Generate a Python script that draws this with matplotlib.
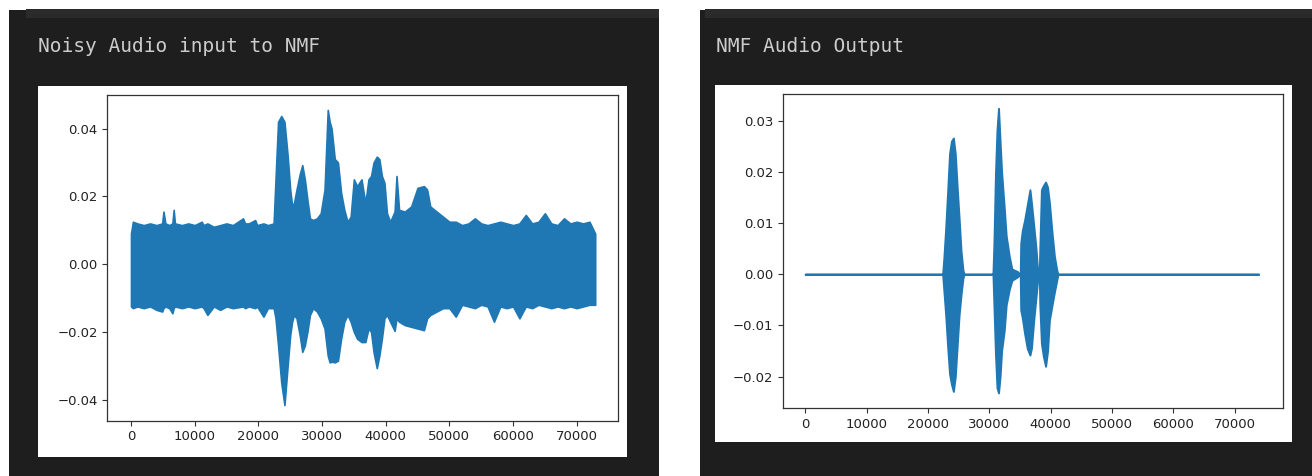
import numpy as np
import matplotlib.pyplot as plt
from matplotlib.patches import Rectangle

# noisy input waveform envelope (sample index, upper, lower)
noisy_t = [0, 300, 1000, 2000, 3000, 4000, 4900, 5100, 5400, 6000, 6500, 6700, 6900,
           8000, 9000, 10000, 11100, 11400, 12000, 13000, 14000, 15000, 16000, 17600,
           17900, 18500, 19500, 19800, 20800, 21500, 22400, 22700, 23100, 23600, 24100,
           24600, 25000, 25300, 25600, 26000, 26500, 26900, 27300, 27700, 28100, 28600,
           29200, 29800, 30400, 30900, 31200, 31500, 32000, 32500, 33000, 33500, 34000,
           34500, 35000, 35500, 36200, 36800, 37300, 37700, 38100, 38600, 39000, 39400,
           39800, 40200, 40700, 41400, 41700, 42100, 43000, 44000, 45000, 46000, 46500,
           47000, 48000, 49000, 50000, 51000, 52000, 53000, 54000, 55000, 56000, 57000,
           58000, 59000, 60000, 61000, 62000, 63000, 64000, 65000, 66000, 67000, 68000,
           69000, 70000, 71000, 72000, 72900]
noisy_hi = [0.009, 0.0125, 0.012, 0.0115, 0.012, 0.0115, 0.012, 0.0155, 0.012, 0.0115,
            0.012, 0.016, 0.012, 0.0115, 0.012, 0.0115, 0.0125, 0.0115, 0.012, 0.011,
            0.0115, 0.012, 0.0115, 0.0135, 0.012, 0.012, 0.013, 0.0115, 0.012, 0.0115,
            0.012, 0.025, 0.042, 0.0437, 0.042, 0.032, 0.022, 0.0174, 0.018, 0.022,
            0.0265, 0.0292, 0.025, 0.019, 0.0135, 0.013, 0.0135, 0.015, 0.022, 0.0455,
            0.042, 0.040, 0.031, 0.030, 0.021, 0.016, 0.0125, 0.014, 0.025, 0.023,
            0.025, 0.018, 0.025, 0.026, 0.030, 0.0317, 0.031, 0.026, 0.024, 0.015,
            0.0125, 0.0155, 0.026, 0.016, 0.0155, 0.017, 0.0225, 0.023, 0.022, 0.017,
            0.0155, 0.014, 0.0125, 0.0125, 0.0115, 0.012, 0.0135, 0.012, 0.0115, 0.012,
            0.0125, 0.012, 0.0115, 0.012, 0.0145, 0.012, 0.0125, 0.015, 0.012, 0.0115,
            0.0135, 0.012, 0.0125, 0.012, 0.0125, 0.009]
noisy_lo = [-0.0125, -0.013, -0.0125, -0.013, -0.0125, -0.0135, -0.014, -0.013, -0.0125,
            -0.013, -0.0145, -0.013, -0.0125, -0.013, -0.0125, -0.013, -0.0125, -0.013,
            -0.015, -0.0125, -0.0135, -0.0125, -0.013, -0.0125, -0.013, -0.0125, -0.013,
            -0.0125, -0.0155, -0.013, -0.013, -0.016, -0.024, -0.035, -0.0416, -0.030,
            -0.021, -0.017, -0.015, -0.016, -0.021, -0.0259, -0.024, -0.020, -0.015,
            -0.013, -0.014, -0.016, -0.019, -0.027, -0.029, -0.0288, -0.029, -0.0285,
            -0.022, -0.017, -0.015, -0.017, -0.020, -0.022, -0.023, -0.023, -0.019,
            -0.020, -0.026, -0.0307, -0.027, -0.022, -0.016, -0.015, -0.017, -0.0197,
            -0.016, -0.017, -0.018, -0.0185, -0.019, -0.0195, -0.016, -0.015, -0.014,
            -0.013, -0.013, -0.0155, -0.012, -0.0125, -0.013, -0.012, -0.0125, -0.017,
            -0.0125, -0.013, -0.0125, -0.016, -0.0125, -0.013, -0.012, -0.0125, -0.013,
            -0.0125, -0.013, -0.0125, -0.013, -0.0125, -0.012, -0.012]

# NMF output waveform envelope
clean_t = [0, 22400, 22590, 22900, 23210, 23530, 23840, 24150, 24460, 24770,
           25080, 25400, 25710, 25900, 30600, 30760, 31010, 31260, 31510, 31760,
           32010, 32440, 32760, 33260, 33690, 34620, 34900, 35050, 35130, 35380,
           35750, 36190, 36630, 36870, 37250, 37620, 37870, 38000, 38150, 38240,
           38500, 38810, 39180, 39500, 39800, 40240, 40620, 41000, 41200, 73900]
clean_hi = [0, 0, 0.003, 0.009, 0.016, 0.0236, 0.026, 0.0266, 0.0235, 0.017,
            0.011, 0.0045, 0.0008, 0, 0, 0.006, 0.0195, 0.0282, 0.0324, 0.026,
            0.020, 0.013, 0.0075, 0.0035, 0.001, 0.0005, 0, 0, 0.006, 0.0085,
            0.0105, 0.0135, 0.0165, 0.014, 0.0095, 0.005, 0.001, 0, 0, 0.005,
            0.0165, 0.0173, 0.018, 0.017, 0.014, 0.008, 0.0035, 0.0008, 0, 0]
clean_lo = [0, 0, -0.003, -0.008, -0.014, -0.0195, -0.0215, -0.0229, -0.020, -0.014,
            -0.008, -0.004, -0.0008, 0, 0, -0.006, -0.0155, -0.0222, -0.0232, -0.020,
            -0.015, -0.011, -0.006, -0.003, -0.0012, -0.0005, 0, 0, -0.007, -0.0085,
            -0.0115, -0.0145, -0.0158, -0.0145, -0.009, -0.0045, -0.0013, 0, 0, -0.006,
            -0.0135, -0.016, -0.018, -0.015, -0.009, -0.006, -0.0035, -0.0012, 0, 0]

W, H = 1312, 476
fig = plt.figure(figsize=(W / 100, H / 100), dpi=100, facecolor='white')


def box(x0, y0, x1, y1, color):
    # pixel box, top-left origin
    fig.add_artist(Rectangle((x0 / W, 1 - y1 / H), (x1 - x0) / W, (y1 - y0) / H,
                             transform=fig.transFigure, facecolor=color,
                             edgecolor='none', zorder=-10))


def axes_at(x0, y0, x1, y1):
    return fig.add_axes([x0 / W, 1 - y1 / H, (x1 - x0) / W, (y1 - y0) / H])


box(9, 9.5, 659, 476, '#1e1e1e')
box(26, 9.5, 659, 17.5, '#2b2b2b')
box(700, 9.5, 1312, 476, '#1e1e1e')
box(705, 9.5, 1312, 18, '#2b2b2b')
box(38.3, 86, 626.7, 456.7, 'white')
box(715, 85, 1291.7, 441.7, 'white')

fig.text(38 / W, 1 - 46 / H, 'Noisy Audio input to NMF', family='DejaVu Sans Mono',
         fontsize=14, color='#cccccc', va='center', ha='left')
fig.text(716 / W, 1 - 46 / H, 'NMF Audio Output', family='DejaVu Sans Mono',
         fontsize=14, color='#cccccc', va='center', ha='left')

blue = '#1f77b4'


def style(ax):
    for s in ax.spines.values():
        s.set_color('#333333')
        s.set_linewidth(0.9)
    ax.tick_params(labelsize=9.5, length=3.4, width=0.8, pad=3.4,
                   colors='#333333', labelcolor='#222222')
    ax.set_xticks(np.arange(0, 70001, 10000))


ax1 = axes_at(107.3, 95, 618.3, 421)
ax1.fill_between(noisy_t, noisy_lo, noisy_hi, facecolor=blue, edgecolor=blue, lw=1.2)
ax1.set_xlim(-3720, 76530)
ax1.set_ylim(-0.0463, 0.0499)
ax1.set_yticks([-0.04, -0.02, 0.0, 0.02, 0.04])
style(ax1)

ax2 = axes_at(783, 94, 1283, 408.3)
ax2.fill_between(clean_t, clean_lo, clean_hi, facecolor=blue, edgecolor=blue, lw=1.4)
ax2.set_xlim(-3620, 77880)
ax2.set_ylim(-0.0262, 0.0352)
ax2.set_yticks([-0.02, -0.01, 0.0, 0.01, 0.02, 0.03])
style(ax2)

fig.savefig('out.png', dpi=100, facecolor='white')
